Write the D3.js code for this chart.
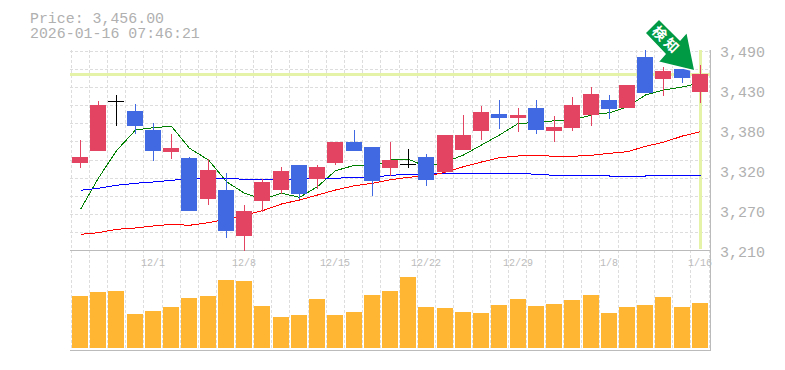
<!DOCTYPE html>
<html>
<head>
<meta charset="utf-8">
<script src="https://cdn.jsdelivr.net/npm/d3@7"></script>
<style>
  html, body { margin: 0; background: #fff; }
  svg { display: block; }
  text { font-family: "Liberation Mono", monospace; fill: #b0b0b0; }
  .title { font-size: 14.9px; }
  .price-tick { font-size: 15px; }
  .date-tick { font-size: 10px; fill: #bcbcbc; }
</style>
</head>
<body>
<script>
const title_lines = ["Price: 3,456.00", "2026-01-16 07:46:21"];

// labels are spaced evenly on the axis, then rounded to tens
const price_ticks = [3490, 3434, 3378, 3322, 3266, 3210];
const date_labels = [[4, "12/1"], [9, "12/8"], [14, "12/15"], [19, "12/22"], [24, "12/29"], [29, "1/8"], [34, "1/16"]];
const last_price = 3456;

const opens = [3331.8, 3348.6, 3418, 3404.6, 3378, 3347.2, 3338.8, 3281.4, 3294, 3229.6, 3278.6, 3294, 3329, 3309.4, 3331.8, 3361.2, 3354.2, 3324.8, 3330.4, 3340.2, 3319.2, 3350, 3376.6, 3400.4, 3394.8, 3408.8, 3376.6, 3380.8, 3399, 3420, 3408.8, 3480.2, 3449.4, 3463.4, 3431.2];
const highs = [3364, 3418.6, 3427, 3414.4, 3387.8, 3372.4, 3340.2, 3337.4, 3317.8, 3273, 3309.4, 3326.2, 3329, 3329, 3361.2, 3378, 3354.2, 3361.2, 3351.4, 3344.4, 3371, 3399, 3411.6, 3420, 3408.8, 3420, 3397.6, 3424.2, 3438.2, 3427, 3441, 3490, 3466.2, 3463.4, 3469];
const lows = [3324.8, 3348.6, 3383.6, 3372.4, 3334.6, 3337.4, 3264.6, 3273, 3226.8, 3208.6, 3263.2, 3288.4, 3281.4, 3295.4, 3329, 3348.6, 3285.6, 3313.6, 3324.8, 3299.6, 3317.8, 3350, 3364, 3379.4, 3375.2, 3372.4, 3361.2, 3376.6, 3383.6, 3393.4, 3408.8, 3429.8, 3425.6, 3443.8, 3415.8];
const closes = [3340.2, 3413, 3418, 3383.6, 3348.6, 3352.8, 3264.6, 3322, 3236.6, 3264.6, 3305.2, 3320.6, 3288.4, 3326.2, 3361.2, 3348.6, 3306.6, 3336, 3330.4, 3308, 3371, 3371, 3403.2, 3394.8, 3399, 3378, 3382.2, 3413, 3428.4, 3407.4, 3441, 3429.8, 3460.6, 3450.8, 3456];
const volumes = [52000, 56000, 57000, 34000, 37000, 41000, 50000, 52000, 68000, 67000, 42000, 31000, 33000, 49000, 33000, 36000, 53000, 57000, 71000, 41000, 40000, 36000, 35000, 43000, 49000, 42000, 44000, 48000, 53000, 35000, 41000, 43000, 51000, 41000, 45000];

const ma_green = [3267, 3310.8, 3349, 3378, 3381.2, 3383.2, 3352.4, 3336, 3305.6, 3289.4, 3281, 3289.4, 3283.8, 3298.6, 3321, 3328.6, 3326.6, 3336, 3337, 3326.6, 3333.2, 3343, 3357, 3371, 3387.4, 3388.2, 3391, 3392, 3399, 3402.2, 3410.6, 3427, 3434, 3438.2, 3444.2];
const ma_blue = [3293.6, 3296.4, 3300.6, 3303.4, 3305.2, 3307.6, 3309.4, 3310.4, 3310.4, 3309, 3309, 3309, 3309, 3310.4, 3310.4, 3311.8, 3311.8, 3314.6, 3316, 3316, 3317.4, 3317.4, 3317.4, 3317.4, 3317.4, 3316, 3314.6, 3314.6, 3314.6, 3313.6, 3313.6, 3313.6, 3314.6, 3314.6, 3314.6];
const ma_red = [3232, 3234.2, 3239, 3240.8, 3243.6, 3246, 3244.6, 3248.2, 3253, 3259, 3265, 3274.4, 3280, 3287, 3294, 3300, 3303.4, 3308.4, 3311.8, 3313.6, 3318.8, 3326.6, 3333.2, 3339.2, 3341.6, 3342.6, 3341.2, 3341.2, 3342.6, 3345.4, 3347.6, 3355.2, 3360.8, 3369.6, 3375.6];

const width = 785, height = 370;
const n = opens.length;

const svg = d3.select("body").append("svg")
    .attr("width", width)
    .attr("height", height)
    .attr("viewBox", [0, 0, width, height]);

const x = d3.scaleBand().domain(d3.range(n)).range([70, 708.2]);
const y = d3.scaleLinear().domain([3210, 3490]).range([250, 50]);
const yv = d3.scaleLinear().domain([0, 100000]).range([348, 248]);
const cx = i => Math.round(x(i) + 2) + 8;

// grid
const grid = svg.append("g")
    .attr("stroke", "#ddd")
    .attr("stroke-dasharray", "3,2")
    .attr("shape-rendering", "crispEdges");

grid.selectAll(".v")
    .data(d3.range(n + 1))
  .enter().append("line")
    .attr("x1", d => Math.round(70.5 + d * x.step()) + .5)
    .attr("x2", d => Math.round(70.5 + d * x.step()) + .5)
    .attr("y1", 50)
    .attr("y2", 350);

grid.selectAll(".h")
    .data(d3.range(0, 11))
  .enter().append("line")
    .attr("x1", 70)
    .attr("x2", 710)
    .attr("y1", d => Math.round(50.5 + d * 18.18) + .5)
    .attr("y2", d => Math.round(50.5 + d * 18.18) + .5);

// current price markers
svg.append("line")
    .attr("x1", 70).attr("x2", 710)
    .attr("y1", y(last_price) + .2).attr("y2", y(last_price) + .2)
    .attr("stroke", "#e4f3a8")
    .attr("stroke-width", 3);

svg.append("line")
    .attr("x1", cx(n - 1) + .5).attr("x2", cx(n - 1) + .5)
    .attr("y1", 50).attr("y2", 249)
    .attr("stroke", "#e4f3a8")
    .attr("stroke-width", 3);

// axes frame
const frame = svg.append("g")
    .attr("stroke", "#bbb")
    .attr("shape-rendering", "crispEdges");
frame.append("line").attr("x1", 70).attr("x2", 711).attr("y1", 250.5).attr("y2", 250.5);
frame.append("line").attr("x1", 70).attr("x2", 711).attr("y1", 350.5).attr("y2", 350.5);
frame.append("line").attr("x1", 710.5).attr("x2", 710.5).attr("y1", 50).attr("y2", 351);

// volume
svg.append("g")
    .attr("fill", "#ffb733")
    .attr("shape-rendering", "crispEdges")
  .selectAll("rect")
    .data(volumes)
  .enter().append("rect")
    .attr("x", (d, i) => cx(i) - 8)
    .attr("y", d => yv(d))
    .attr("width", 16)
    .attr("height", d => yv(0) - yv(d));

// moving averages, under the candles
const line = d3.line()
    .x((d, i) => cx(i) + .5)
    .y(d => y(d));

[[ma_green, "#008000"], [ma_blue, "#00f"], [ma_red, "#f00"]].forEach(([data, stroke]) => {
  svg.append("path")
      .attr("d", line(data))
      .attr("fill", "none")
      .attr("stroke", stroke)
      .attr("stroke-width", 1)
      .attr("shape-rendering", "crispEdges");
});

// candles
function colour(i) {
  if (opens[i] === closes[i]) return "#000";
  return closes[i] > opens[i] ? "#e24462" : "#4169e1";
}

const candles = svg.append("g")
    .attr("shape-rendering", "crispEdges")
  .selectAll("g")
    .data(d3.range(n))
  .enter().append("g");

candles.append("line")
    .attr("x1", i => cx(i) + .5)
    .attr("x2", i => cx(i) + .5)
    .attr("y1", i => y(highs[i]))
    .attr("y2", i => y(lows[i]))
    .attr("stroke", colour);

candles.filter(i => opens[i] !== closes[i]).append("rect")
    .attr("x", i => cx(i) - 8)
    .attr("y", i => y(Math.max(opens[i], closes[i])))
    .attr("width", 16)
    .attr("height", i => Math.abs(y(opens[i]) - y(closes[i])))
    .attr("fill", colour);

candles.filter(i => opens[i] === closes[i]).append("line")
    .attr("x1", i => cx(i) - 8)
    .attr("x2", i => cx(i) + 8)
    .attr("y1", i => y(opens[i]) + .5)
    .attr("y2", i => y(opens[i]) + .5)
    .attr("stroke", "#000");

// price labels
svg.append("g")
  .selectAll("text")
    .data(price_ticks)
  .enter().append("text")
    .attr("class", "price-tick")
    .attr("x", 720)
    .attr("y", d => y(d) + 7)
    .text(d => d3.format(",")(Math.round(d / 10) * 10));

svg.append("g")
  .selectAll("text")
    .data(date_labels)
  .enter().append("text")
    .attr("class", "date-tick")
    .attr("x", d => cx(d[0]))
    .attr("y", 266)
    .attr("text-anchor", "middle")
    .text(d => d[1]);

svg.append("g")
  .selectAll("text")
    .data(title_lines)
  .enter().append("text")
    .attr("class", "title")
    .attr("x", 30)
    .attr("y", (d, i) => 23 + i * 15)
    .text(d => d);

// signal arrow
const arrow = svg.append("g")
    .attr("transform", "translate(695,71)");

arrow.append("path")
    .attr("d", "M-36,-52 L-50,-38 L-30,-17 L-37,-9 L0,0 L-8,-39 L-15,-31 Z")
    .attr("fill", "#009944")
    .attr("stroke", "#fff")
    .attr("stroke-width", 1.5);

arrow.append("text")
    .attr("transform", "translate(-28.5,-30.5) rotate(45)")
    .attr("text-anchor", "middle")
    .attr("y", 5)
    .style("font-family", "'Noto Sans CJK JP'")
    .style("font-weight", 700)
    .style("font-size", "14px")
    .style("letter-spacing", "3px")
    .style("fill", "#fff")
    .text("検知");
</script>
</body>
</html>
